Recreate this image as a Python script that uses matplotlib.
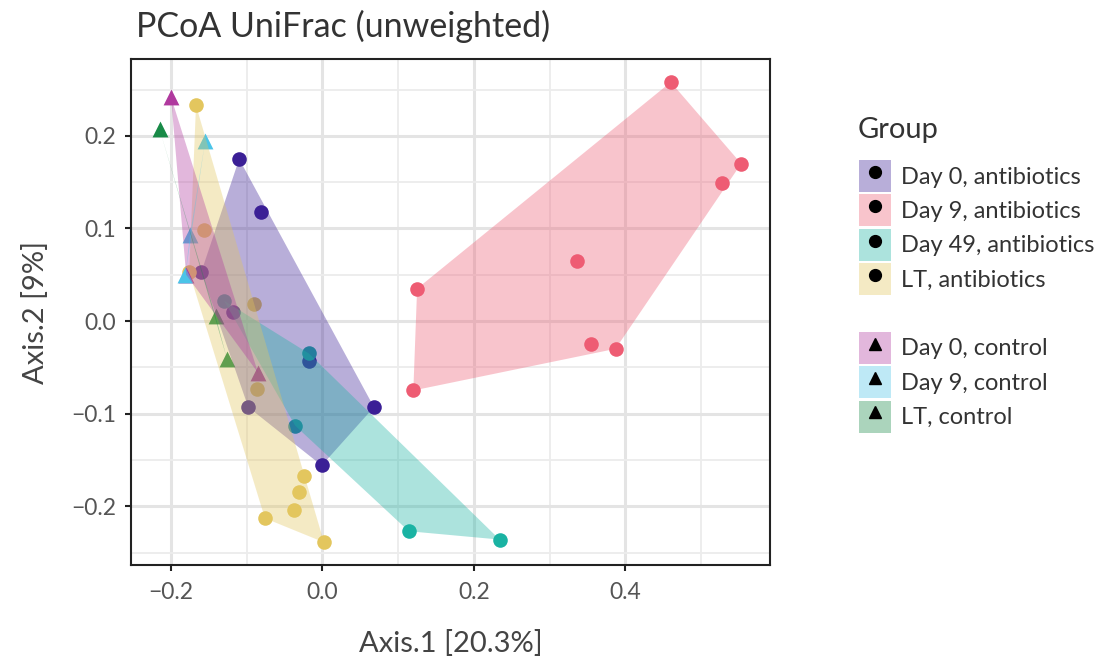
#PCoA UniFrac (unweighted) のプロット
import numpy as np
import matplotlib
matplotlib.use('Agg')
import matplotlib.pyplot as plt
from matplotlib.patches import Patch, Polygon
from matplotlib.lines import Line2D

plt.rcParams['font.family'] = ['Lato', 'DejaVu Sans']

#グループ名
groups = ['Day 0, antibiotics', 'Day 9, antibiotics', 'Day 49, antibiotics', 'LT, antibiotics',
          'Day 0, control', 'Day 9, control', 'LT, control']

#各グループの座標 (Axis.1, Axis.2)
day0_ab_x = [-0.110, -0.081, -0.160, -0.118, -0.098, -0.018, 0.068, -0.001]
day0_ab_y = [0.175, 0.118, 0.053, 0.010, -0.093, -0.043, -0.093, -0.156]

day9_ab_x = [0.460, 0.553, 0.527, 0.336, 0.125, 0.354, 0.387, 0.120]
day9_ab_y = [0.258, 0.170, 0.149, 0.065, 0.035, -0.025, -0.030, -0.075]

day49_ab_x = [-0.130, -0.018, -0.036, 0.114, 0.234]
day49_ab_y = [0.022, -0.035, -0.113, -0.227, -0.236]

lt_ab_x = [-0.167, -0.156, -0.176, -0.091, -0.086, -0.025, -0.031, -0.038, -0.076, 0.002]
lt_ab_y = [0.233, 0.098, 0.053, 0.018, -0.073, -0.167, -0.185, -0.204, -0.213, -0.239]

day0_ct_x = [-0.200, -0.085, -0.180]
day0_ct_y = [0.242, -0.056, 0.050]

day9_ct_x = [-0.155, -0.175, -0.181]
day9_ct_y = [0.194, 0.093, 0.050]

lt_ct_x = [-0.215, -0.141, -0.126]
lt_ct_y = [0.207, 0.005, -0.041]

#色とマーカー
colors = ['#3B1F96', '#EE5C73', '#1AB3A3', '#E3C65E', '#B0399E', '#4BC4E8', '#188A47']
markers = ['o', 'o', 'o', 'o', '^', '^', '^']

xs = [day0_ab_x, day9_ab_x, day49_ab_x, lt_ab_x, day0_ct_x, day9_ct_x, lt_ct_x]
ys = [day0_ab_y, day9_ab_y, day49_ab_y, lt_ab_y, day0_ct_y, day9_ct_y, lt_ct_y]

fill_alpha = 0.36


#凸包 (monotone chain)
def hull(px, py):
    pts = sorted(set(zip(px, py)))
    if len(pts) < 3:
        return pts

    def cross(o, a, b):
        return (a[0] - o[0]) * (b[1] - o[1]) - (a[1] - o[1]) * (b[0] - o[0])

    lower = []
    for p in pts:
        while len(lower) >= 2 and cross(lower[-2], lower[-1], p) <= 0:
            lower.pop()
        lower.append(p)
    upper = []
    for p in reversed(pts):
        while len(upper) >= 2 and cross(upper[-2], upper[-1], p) <= 0:
            upper.pop()
        upper.append(p)
    return lower[:-1] + upper[:-1]


fig = plt.figure(figsize=(11.19, 6.6), dpi=100)
ax = fig.add_axes([0.1171, 0.1439, 0.5710, 0.7667])

#点
for x, y, c, m in zip(xs, ys, colors, markers):
    ax.scatter(x, y, s=110 if m == 'o' else 130, color=c, marker=m, linewidths=0, zorder=2)

#凸包ポリゴン
for x, y, c in zip(xs, ys, colors):
    h = hull(x, y)
    ax.add_patch(Polygon(h, closed=True, facecolor=c, alpha=fill_alpha, edgecolor='none', zorder=3))

ax.set_xlim(-0.2528, 0.591)
ax.set_ylim(-0.2635, 0.283)
ax.set_xticks([-0.2, 0.0, 0.2, 0.4])
ax.set_yticks([-0.2, -0.1, 0.0, 0.1, 0.2])
ax.set_xticks([-0.1, 0.1, 0.3, 0.5], minor=True)
ax.set_yticks([-0.25, -0.15, -0.05, 0.05, 0.15, 0.25], minor=True)
ax.grid(which='major', color='#E4E4E4', linewidth=2.2, zorder=0)
ax.grid(which='minor', color='#ECECEC', linewidth=1.3, zorder=0)
ax.set_axisbelow(True)
ax.tick_params(which='major', length=4, width=1.5, color='#222222', labelsize=16.5,
               labelcolor='#555555')
ax.tick_params(axis='x', pad=8)
ax.tick_params(axis='y', pad=6.5)
ax.tick_params(which='minor', length=0)
for s in ax.spines.values():
    s.set_linewidth(1.5)
    s.set_color('#222222')

ax.set_xlabel('Axis.1 [20.3%]', fontsize=21, color='#444444', labelpad=20)
ax.set_ylabel('Axis.2 [9%]', fontsize=21, color='#444444', labelpad=16)

fig.text(136 / 1119, 1 - 37 / 660, 'PCoA UniFrac (unweighted)', fontsize=24.5,
         color='#333333', ha='left', va='baseline')

#凡例
fig.text(858 / 1119, 1 - 138 / 660, 'Group', fontsize=21, color='#333333',
         ha='left', va='baseline')

handles = []
labels = []
for i, (g, c, m) in enumerate(zip(groups, colors, markers)):
    if i == 4:
        handles.append(Patch(facecolor='none', edgecolor='none'))
        labels.append('')
    handles.append((Patch(facecolor=c, alpha=fill_alpha, edgecolor='none'),
                    Line2D([], [], marker=m, color='black', linestyle='none', markersize=8.5)))
    labels.append(g)

leg = fig.legend(handles, labels, loc='upper left', bbox_to_anchor=(859 / 1119, 1 - 160 / 660),
                 bbox_transform=fig.transFigure, frameon=False, borderpad=0, borderaxespad=0,
                 fontsize=17, handlelength=1.355, handleheight=1.708, labelspacing=0.1,
                 handletextpad=0.42)
for t in leg.get_texts():
    t.set_color('#333333')

fig.savefig('out.png', dpi=100)
